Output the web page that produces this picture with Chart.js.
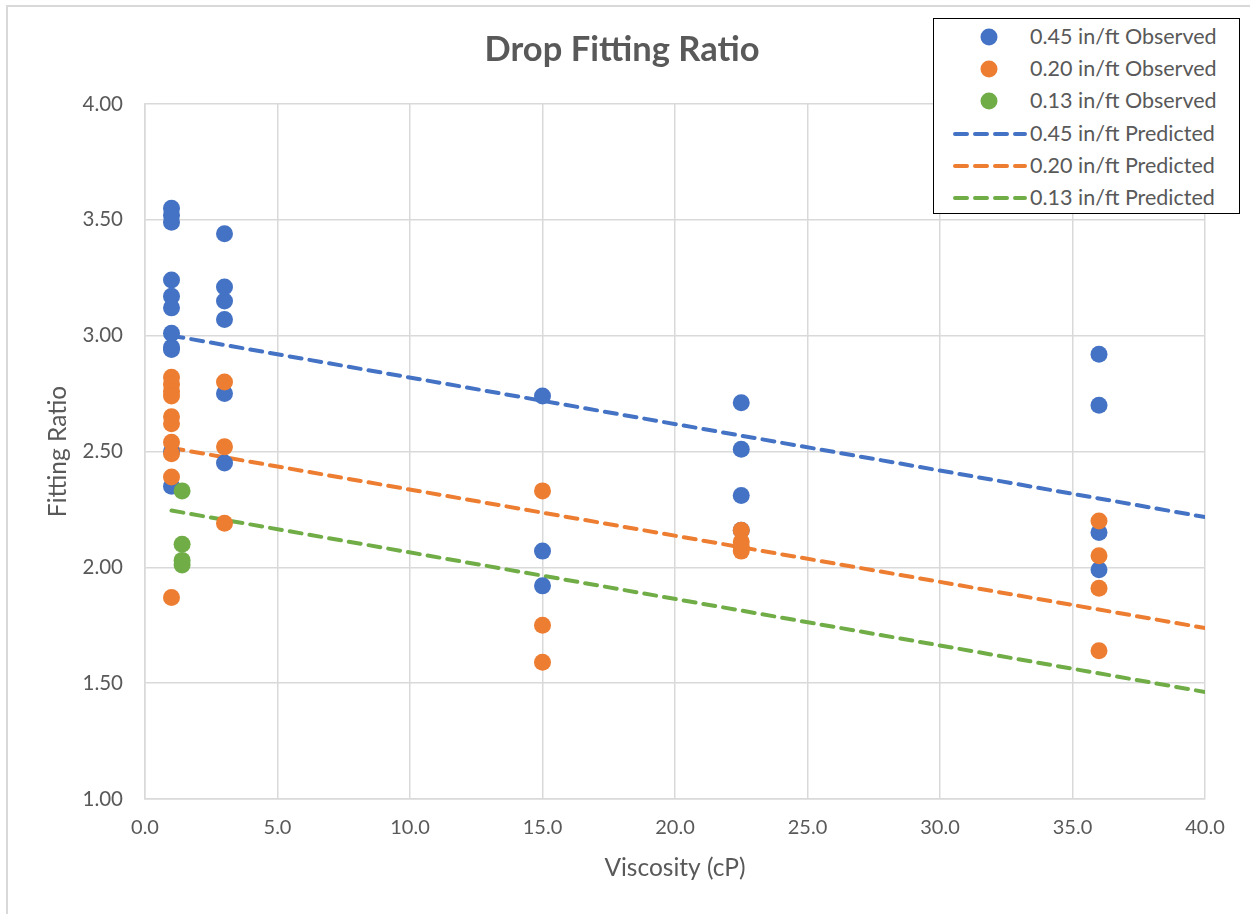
<!DOCTYPE html>
<html>
<head>
<meta charset="utf-8">
<script src="https://cdn.jsdelivr.net/npm/chart.js@4/dist/chart.umd.min.js"></script>
<style>
  html, body { margin: 0; padding: 0; background: #fff; }
  #wrap { position: relative; width: 1250px; height: 914px; overflow: hidden; }
  #frame { position: absolute; left: 6px; top: 5px; width: 1300px; height: 1000px;
           border-left: 2px solid #d9d9d9; border-top: 2px solid #d9d9d9; }
  canvas { position: absolute; left: 0; top: 0; }
  #legend { position: absolute; left: 933px; top: 18px; width: 307px; height: 196px;
            border: 1.5px solid #000; background: #fff; box-sizing: border-box;
            font-family: Lato, "Open Sans", sans-serif; font-size: 21.5px; color: #595959; }
  .row { position: absolute; left: 0; height: 32px; width: 100%; }
  .row svg { position: absolute; left: 18px; top: 0; }
  .row span { position: absolute; left: 96px; top: 2px; white-space: nowrap; }
</style>
</head>
<body>
<div id="wrap">
  <div id="frame"></div>
  <canvas id="c" width="1250" height="914"></canvas>
  <div id="legend"></div>
</div>
<script>
// ---- Data ----
const viscosity = [0.0, 5.0, 10.0, 15.0, 20.0, 25.0, 30.0, 35.0, 40.0]; // x tick positions
const yTicks = [1.00, 1.50, 2.00, 2.50, 3.00, 3.50, 4.00];

const obs45X = [1, 1, 1, 1, 1, 1, 1, 1, 1, 1, 1,
                3, 3, 3, 3, 3, 3,
                15, 15, 15,
                22.5, 22.5, 22.5, 22.5,
                36, 36, 36, 36];
const obs45Y = [3.55, 3.52, 3.49, 3.24, 3.17, 3.12, 3.01, 2.95, 2.94, 2.50, 2.35,
                3.44, 3.21, 3.15, 3.07, 2.75, 2.45,
                2.74, 2.07, 1.92,
                2.71, 2.51, 2.31, 2.16,
                2.92, 2.70, 2.15, 1.99];

const obs20X = [1, 1, 1, 1, 1, 1, 1, 1, 1, 1,
                3, 3, 3,
                15, 15, 15,
                22.5, 22.5, 22.5, 22.5,
                36, 36, 36, 36];
const obs20Y = [2.82, 2.79, 2.76, 2.74, 2.65, 2.62, 2.54, 2.49, 2.39, 1.87,
                2.80, 2.52, 2.19,
                2.33, 1.75, 1.59,
                2.16, 2.11, 2.09, 2.07,
                2.20, 2.05, 1.91, 1.64];

const obs13X = [1.4, 1.4, 1.4, 1.4];
const obs13Y = [2.33, 2.10, 2.03, 2.01];

const predX = [1, 40];
const pred45Y = [3.00, 2.217];
const pred20Y = [2.515, 1.738];
const pred13Y = [2.245, 1.462];

const seriesNames = ['0.45 in/ft Observed', '0.20 in/ft Observed', '0.13 in/ft Observed',
                     '0.45 in/ft Predicted', '0.20 in/ft Predicted', '0.13 in/ft Predicted'];

// ---- Styling ----
const BLUE = '#4472c4', ORANGE = '#ed7d31', GREEN = '#70ad47';
const TXT = '#595959';
const FONT = 'Lato, "Open Sans", sans-serif';

function pts(xs, ys) { return xs.map((x, i) => ({ x: x, y: ys[i] })); }

function scatterDS(label, xs, ys, color, order) {
  return { label, type: 'scatter', data: pts(xs, ys), backgroundColor: color,
           borderColor: color, pointRadius: 8.5, pointHoverRadius: 8.5, borderWidth: 0, order };
}
function lineDS(label, xs, ys, color, order) {
  return { label, type: 'line', data: pts(xs, ys), borderColor: color, backgroundColor: color,
           borderWidth: 4, borderDash: [12, 8], borderCapStyle: 'round', pointRadius: 0,
           fill: false, tension: 0, order };
}

const datasets = [
  scatterDS(seriesNames[0], obs45X, obs45Y, BLUE, 3),
  scatterDS(seriesNames[1], obs20X, obs20Y, ORANGE, 2),
  scatterDS(seriesNames[2], obs13X, obs13Y, GREEN, 1),
  lineDS(seriesNames[3], predX, pred45Y, BLUE, 6),
  lineDS(seriesNames[4], predX, pred20Y, ORANGE, 5),
  lineDS(seriesNames[5], predX, pred13Y, GREEN, 4),
];

new Chart(document.getElementById('c'), {
  type: 'scatter',
  data: { datasets },
  options: {
    responsive: false,
    animation: false,
    layout: { padding: { top: 0, left: 39, right: 45, bottom: 27 } },
    plugins: {
      legend: { display: false },
      tooltip: { enabled: false },
      title: {
        display: true, text: 'Drop Fitting Ratio', color: TXT,
        font: { family: FONT, size: 34.5, weight: 'bold', lineHeight: 1.2 },
        padding: { top: 29, bottom: 33.6 }
      }
    },
    scales: {
      x: {
        type: 'linear', min: 0, max: 40,
        afterBuildTicks: s => { s.ticks = viscosity.map(v => ({ value: v })); },
        afterFit: s => { s.height = 88; },
        ticks: { color: TXT, font: { family: FONT, size: 20 }, padding: 17,
                 callback: v => Number(v).toFixed(1), maxRotation: 0, autoSkip: false },
        grid: { color: '#d9d9d9', lineWidth: 1.5, drawTicks: false },
        border: { display: true, color: '#d9d9d9', width: 1.5 },
        title: { display: true, text: 'Viscosity (cP)', color: TXT,
                 font: { family: FONT, size: 24.5 }, padding: { top: 4, bottom: 4 } }
      },
      y: {
        type: 'linear', min: 1, max: 4,
        afterBuildTicks: s => { s.ticks = yTicks.map(v => ({ value: v })); },
        afterFit: s => { s.width = 106; },
        ticks: { color: TXT, font: { family: FONT, size: 20.5 }, padding: 22,
                 callback: v => Number(v).toFixed(2), autoSkip: false },
        grid: { color: '#d9d9d9', lineWidth: 1.5, drawTicks: false },
        border: { display: true, color: '#d9d9d9', width: 1.5 },
        title: { display: true, text: 'Fitting Ratio', color: TXT,
                 font: { family: FONT, size: 24.5 }, padding: { top: 4, bottom: 4 } }
      }
    }
  }
});

// ---- HTML legend ----
const legendColors = [BLUE, ORANGE, GREEN, BLUE, ORANGE, GREEN];
const legend = document.getElementById('legend');
seriesNames.forEach((name, i) => {
  const row = document.createElement('div');
  row.className = 'row';
  row.style.top = (2 + i * 32.2) + 'px';
  const c = legendColors[i];
  const marker = i < 3
    ? `<svg width="76" height="32"><circle cx="37" cy="16" r="8.5" fill="${c}"/></svg>`
    : `<svg width="76" height="32"><line x1="3" y1="16" x2="73" y2="16" stroke="${c}" stroke-width="4" stroke-dasharray="12 8" stroke-linecap="round"/></svg>`;
  row.innerHTML = marker + `<span>${name}</span>`;
  legend.appendChild(row);
});
</script>
</body>
</html>
